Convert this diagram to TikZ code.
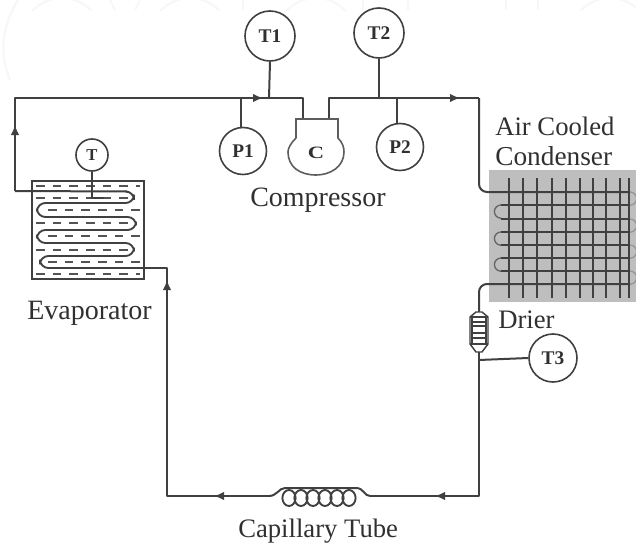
\documentclass[tikz,border=0pt]{standalone}
\usepackage{fontspec}
\setmainfont{Liberation Serif}
\usetikzlibrary{arrows.meta}
\definecolor{ink}{HTML}{404040}
\definecolor{txt}{HTML}{303030}
\definecolor{fin}{HTML}{BEBEBE}
\definecolor{wm}{HTML}{F6F7F7}
\tikzset{
  pipe/.style={draw=ink,line width=1.5pt,line join=round},
  flow/.style={draw=ink,line width=1.5pt,-{Latex[length=7.5pt,width=6.5pt]}},
  gauge/.style={circle,draw=ink,line width=1.2pt,fill=white,inner sep=0pt,text=txt,font=\fontsize{14.5pt}{15pt}\selectfont\bfseries},
  lbl/.style={text=txt,inner sep=0pt,font=\fontsize{20pt}{24pt}\selectfont,align=left},
  lblw/.style={text=txt,inner sep=0pt,font=\fontsize{21pt}{24pt}\selectfont,align=left},
  fill dash/.style={draw=ink!90,line width=1.5pt,dash pattern=on 6.5pt off 6pt},
  grid line/.style={draw=ink,line width=1.5pt},
  watermark/.style={draw=wm,line width=1.6pt}
}
\begin{document}
\begin{tikzpicture}[x=0.75pt,y=-0.75pt]
\useasboundingbox (0,0) rectangle (636,546);
% faint watermark
\begin{scope}
\clip (0,10) rectangle (636,0);
\foreach \cx in {62,190,316,610}{\draw[watermark] (\cx,38) circle (40);}
\foreach \x in {243,363,408,506,538}{\draw[watermark] (\x,0) -- (\x,10);}
\draw[watermark] (110,0) -- (115,10) (140,0) -- (135,10);
\end{scope}
\draw[watermark] (18,0) .. controls (0,30) and (0,55) .. (10,80);
%
\coordinate (tl) at (15,98);
\coordinate (bl) at (15,191);
\coordinate (a1) at (15,125);
\coordinate (a1b) at (15,140);
\coordinate (j1) at (241,98);
\coordinate (a2b) at (245,98);
\coordinate (a2) at (263,98);
\coordinate (j2) at (269,98);
\coordinate (n1) at (303,98);
\coordinate (i1) at (303,119);
\coordinate (n2) at (329,98);
\coordinate (i2) at (329,119);
\coordinate (j3) at (379,98);
\coordinate (j4) at (397,98);
\coordinate (a3b) at (440,98);
\coordinate (a3) at (460,98);
\coordinate (tr) at (479,98);
\coordinate (dt) at (479,312);
\coordinate (db) at (479,352);
\coordinate (j5) at (479,360);
\coordinate (br) at (479,496);
\coordinate (a4b) at (455,496);
\coordinate (a4) at (435,496);
\coordinate (cr) at (370,496);
\coordinate (cl) at (269,496);
\coordinate (a5b) at (235,496);
\coordinate (a5) at (214,496);
\coordinate (bk) at (167,496);
\coordinate (a6b) at (167,300);
\coordinate (a6) at (167,280);
\coordinate (ek) at (167,268);
\coordinate (eo) at (144,268);
% condenser
\fill[fin] (489,170) rectangle (636,302);
\foreach \y in {205,219,232,245,258,271}{\draw[grid line] (501,\y) -- (630,\y);}
\draw[grid line] (tr) -- (479,184) to[out=-90,in=180] (487,192) -- (630,192);
\draw[grid line] (dt) -- (479,292) to[out=90,in=180] (487,284) -- (630,284);
\foreach \y in {205,232,258}{\draw[draw=ink!80,line width=1pt] (501,\y) arc[start angle=-90,end angle=-270,radius=6.6];}
\foreach \y in {192,219,245,271}{\draw[draw=ink!55,line width=1pt] (630,\y) arc[start angle=-90,end angle=90,radius=6.6];}
\foreach \x in {509,523,537,552,566,580,593,606,620,629}{\draw[grid line] (\x,178) -- (\x,298);}
% evaporator
\node[draw=ink,line width=1.4pt,minimum width=112*0.75pt,minimum height=98*0.75pt,inner sep=0pt] (evap) at (88,230) {};
\foreach \y/\a/\b in {186/36/140,198/36/128,210/48/140,223/36/128,236/48/140,250/36/128,262/48/140,274/36/140}{\draw[fill dash] (\a,\y) -- (\b,\y);}
\draw[draw=ink,line width=1.4pt,rounded corners=6.3pt] (127,191.5) -- (134,191.5) -- (134,203) -- (37,203) -- (37,217) -- (136,217) -- (136,230) -- (37,230) -- (37,243) -- (134,243) -- (134,256) -- (40,256) -- (40,268) -- (144,268);
% pipes
\draw[pipe] (bl) -- (tl) -- (n1) -- (i1);
\draw[pipe] (i2) -- (n2) -- (tr);
\draw[pipe] (bl) -- (127,191.5);
\draw[flow] (a1b) -- (a1);
\draw[flow] (a2b) -- (a2);
\draw[flow] (a3b) -- (a3);
% compressor
\node[inner sep=0pt,text=txt,xscale=1.3,font=\fontsize{13pt}{14pt}\selectfont\bfseries] (comp) at (316,153) {C};
\draw[draw=ink!85,line width=1.2pt] (296,138) -- (296,119) -- (338,119) -- (338,138)
  .. controls (343,143) and (344,148) .. (344,152)
  .. controls (344,167) and (330,175) .. (316,175)
  .. controls (300,175) and (288,167) .. (288,152)
  .. controls (288,148) and (291,143) .. (296,138);
% gauges
\node[gauge,minimum size=50*0.75pt] (T1) at (270,36) {T1};
\node[gauge,minimum size=50*0.75pt] (T2) at (379,33) {T2};
\node[gauge,minimum size=47*0.75pt] (P1) at (243,151) {P1};
\node[gauge,minimum size=47*0.75pt] (P2) at (400,147) {P2};
\node[gauge,minimum size=32*0.75pt,font=\fontsize{12.5pt}{13pt}\selectfont\bfseries] (T) at (92,155) {T};
\node[gauge,minimum size=48*0.75pt] (T3) at (553,358) {T3};
\draw[pipe] (T1.south) -- (j2);
\draw[pipe] (T2.south) -- (j3);
\draw[pipe] (j1) -- (j1|-P1.north);
\draw[pipe] (j4) -- (j4|-P2.north);
\draw[pipe] (T.south) -- (92,198) -- (104,198);
\draw[pipe] (j5) -- (T3.west);
% drier
\draw[draw=ink,line width=1.1pt,fill=white] (476,312) -- (482,312) -- (488,317) -- (488,344) -- (482,352) -- (476,352) -- (470,344) -- (470,317) -- cycle;
\draw[draw=ink,line width=2.2pt] (472,317) -- (472,344) (486,317) -- (486,344);
\foreach \y in {322,326,333,338}{\draw[draw=ink,line width=1.1pt] (472,\y) -- (486,\y);}
\draw[draw=ink,line width=1.6pt] (470,317) -- (488,317) (470,344) -- (488,344);
% lower loop
\draw[pipe] (db) -- (br) -- (cr);
\draw[pipe] (cr) .. controls (364,496) and (364,488) .. (356,488) -- (285,488) .. controls (279,488) and (277,496) .. (cl);
\foreach \x in {289,301,313,325,337,349}{\draw[draw=ink,line width=1.4pt] (\x,498) ellipse (6.6 and 8);}
\draw[pipe] (cl) -- (bk) -- (ek) -- (eo);
\draw[flow] (a4b) -- (a4);
\draw[flow] (a5b) -- (a5);
\draw[flow] (a6b) -- (a6);
% labels
\node[lblw,anchor=base west] (Lc) at (250,206) {Compressor};
\node[lblw,anchor=base west] (Le) at (27,319) {Evaporator};
\node[lbl,anchor=base west] (La) at (495,135) {Air Cooled};
\node[lbl,anchor=base west,font=\fontsize{20.5pt}{24pt}\selectfont] (Lo) at (495,165) {Condenser};
\node[lbl,anchor=base west] (Ld) at (498,328) {Drier};
\node[lbl,anchor=base west] (Lt) at (238,537) {Capillary Tube};
\end{tikzpicture}
\end{document}
